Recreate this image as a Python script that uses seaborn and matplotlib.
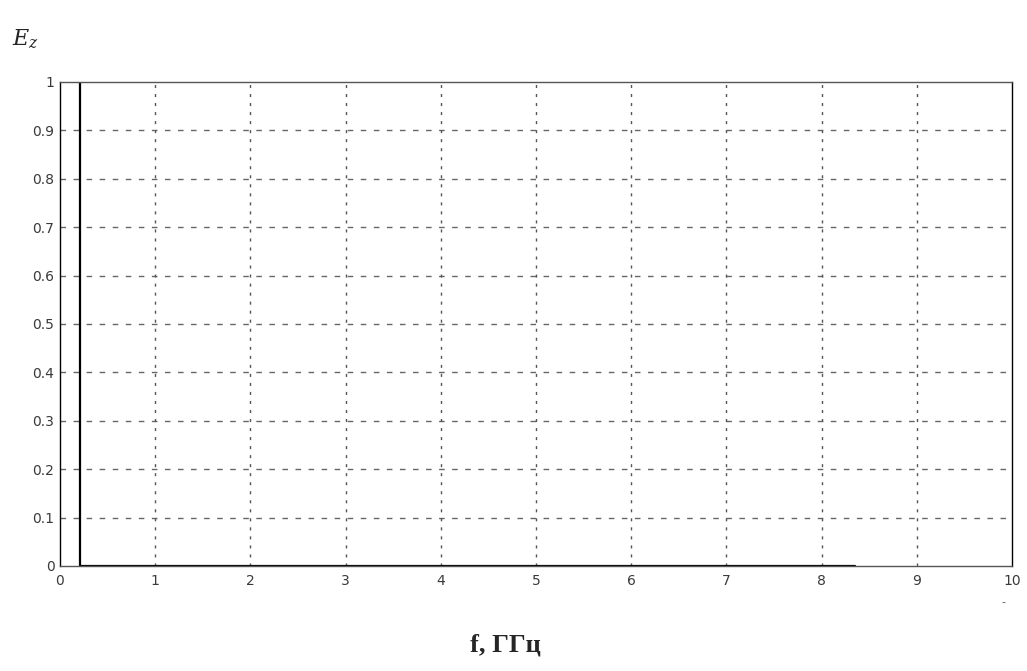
import numpy as np
import pandas as pd
import seaborn as sns
import matplotlib.pyplot as plt

# Datos
f_ghz = [0.21, 0.21, 8.35]
ez = [1.0, 0.0, 0.0]
x_ticks = list(range(0, 11))
y_ticks = [0, 0.1, 0.2, 0.3, 0.4, 0.5, 0.6, 0.7, 0.8, 0.9, 1]
y_labels = ['0', '0.1', '0.2', '0.3', '0.4', '0.5', '0.6', '0.7', '0.8', '0.9', '1']

sns.set_style("white")
plt.rcParams['font.family'] = ['DejaVu Sans']
plt.rcParams['mathtext.fontset'] = 'dejavuserif'

fig = plt.figure(figsize=(10.27, 6.71), dpi=100)
ax = fig.add_axes([0.0584, 0.1565, 0.927, 0.7213])

datos = pd.DataFrame({'f': f_ghz, 'Ez': ez})
sns.lineplot(data=datos, x='f', y='Ez', ax=ax, color='black', linewidth=1.6,
             sort=False, estimator=None)

ax.set_xlim(0, 10)
ax.set_ylim(0, 1)
ax.set_xticks(x_ticks)
ax.set_yticks(y_ticks)
ax.set_yticklabels(y_labels)

# rejilla: horizontales a trazos, verticales punteadas
for y in y_ticks[1:-1]:
    ax.axhline(y, color='#666666', linestyle=(0, (4.0, 5.4)), linewidth=1.0, zorder=0)
for x in x_ticks[1:-1]:
    ax.axvline(x, color='#555555', linestyle=(0, (2.2, 4.3)), linewidth=1.0, zorder=0)

for s in ax.spines.values():
    s.set_color('#555555')
    s.set_linewidth(1.0)
ax.spines['right'].set_color('black')
ax.spines['left'].set_color('black')

ax.tick_params(direction='in', length=4, width=1, labelsize=10, colors='black',
               labelcolor='#3a3a3a', pad=6)
ax.tick_params(axis='y', pad=4)

ax.set_xlabel('')
ax.set_ylabel('')

fig.text(0.012, 0.932, r'$E_z$', fontsize=16)
fig.text(0.492, 0.022, 'f, ГГц', fontsize=19, family='Liberation Serif',
         fontweight='semibold', ha='center', va='bottom')
fig.text(0.977, 0.098, '-', fontsize=8, color='#555555', ha='center')

plt.savefig('out.png', dpi=100)
